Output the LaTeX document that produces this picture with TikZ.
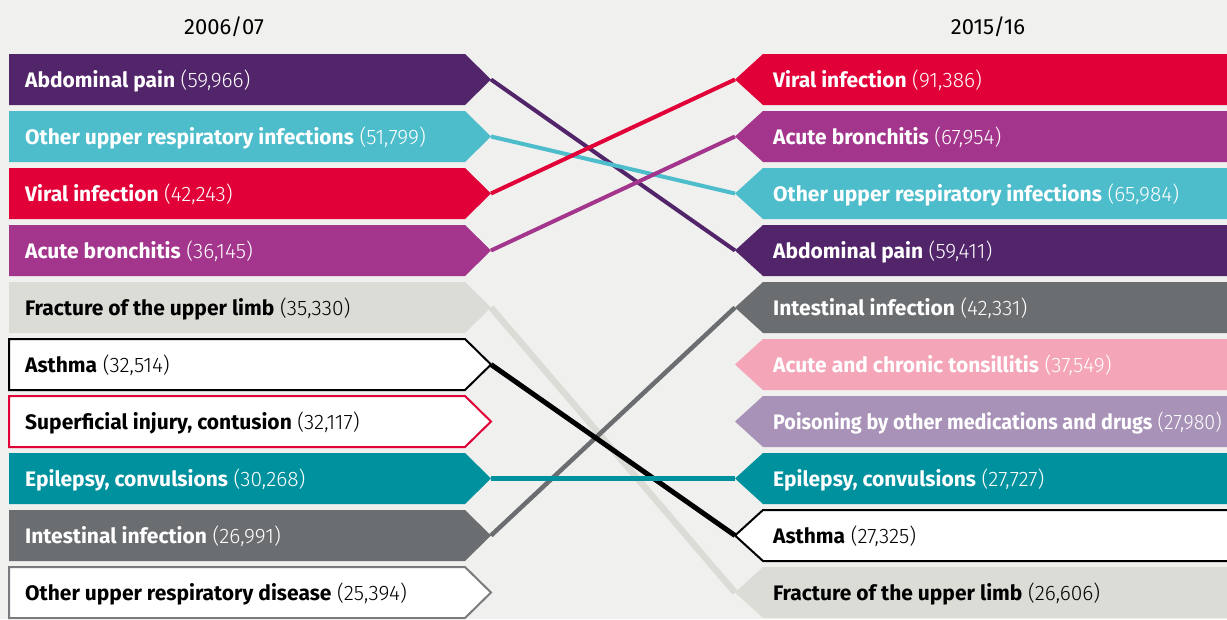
\documentclass[tikz,border=0pt]{standalone}
\usepackage{fontspec}
\setmainfont{Fira Sans}
\newfontfamily\lightfont{Fira Sans Light}
\definecolor{bg}{HTML}{F0F0EE}
\definecolor{cpurple}{HTML}{52246A}
\definecolor{ccyan}{HTML}{4DBDCC}
\definecolor{cred}{HTML}{E10038}
\definecolor{cmagenta}{HTML}{A3368C}
\definecolor{clgray}{HTML}{DCDCD7}
\definecolor{cteal}{HTML}{00919F}
\definecolor{cdgray}{HTML}{6B6E70}
\definecolor{cpink}{HTML}{F4A6B8}
\definecolor{clav}{HTML}{A892B8}
\definecolor{coutgray}{HTML}{7A7B7E}
\tikzset{
  lbl/.style={anchor=base west, inner sep=0pt, font=\fontsize{21}{24}\selectfont},
  head/.style={anchor=base, inner sep=0pt, font=\fontsize{22}{26}\selectfont},
  link/.style={line width=#1},
}
\newcommand\leftrow[6]{%
  \pgfmathsetmacro\ttop{54+(#1-1)*57}%
  \pgfmathsetmacro\tbot{\ttop+51}%
  \pgfmathsetmacro\tmid{\ttop+25.5}%
  \pgfmathsetmacro\tbase{\tmid+7.6}%
  \path[#3] (9,\ttop) -- (465,\ttop) -- (491,\tmid) -- (465,\tbot) -- (9,\tbot) -- cycle;
  \coordinate (#2) at (491,\tmid);
  \node[lbl, text=#6] (#2t) at (25,\tbase) {\textbf{#4} {\lightfont(#5)}};
}
\newcommand\rightrow[7][1]{%
  \pgfmathsetmacro\ttop{54+(#2-1)*57}%
  \pgfmathsetmacro\tbot{\ttop+51}%
  \pgfmathsetmacro\tmid{\ttop+25.5}%
  \pgfmathsetmacro\tbase{\tmid+7.6}%
  \path[#4] (1240,\ttop) -- (763,\ttop) -- (735,\tmid) -- (763,\tbot) -- (1240,\tbot) -- cycle;
  \coordinate (#3) at (735,\tmid);
  \node[lbl, text=#7] (#3t) at (773,\tbase) {\scalebox{#1}[1]{\textbf{#5} {\lightfont(#6)}}};
}
\begin{document}
\begin{tikzpicture}[x=1pt,y=-1pt]
\useasboundingbox (0,0) rectangle (1227,619);
\clip (0,0) rectangle (1227,619);
\fill[bg] (0,0) rectangle (1227,619);
\node[head] (h1) at (224,34.5) {2006/07};
\node[head] (h2) at (988,34.5) {2015/16};
% left column
\leftrow{1}{LA}{fill=cpurple}{Abdominal pain}{59,966}{white}
\leftrow{2}{LB}{fill=ccyan}{Other upper respiratory infections}{51,799}{white}
\leftrow{3}{LC}{fill=cred}{Viral infection}{42,243}{white}
\leftrow{4}{LD}{fill=cmagenta}{Acute bronchitis}{36,145}{white}
\leftrow{5}{LE}{fill=clgray}{Fracture of the upper limb}{35,330}{black}
\leftrow{6}{LF}{fill=white, draw=black, line width=2pt}{Asthma}{32,514}{black}
\leftrow{7}{LG}{fill=white, draw=cred, line width=2pt}{Superficial injury, contusion}{32,117}{black}
\leftrow{8}{LH}{fill=cteal}{Epilepsy, convulsions}{30,268}{white}
\leftrow{9}{LI}{fill=cdgray}{Intestinal infection}{26,991}{white}
\leftrow{10}{LJ}{fill=white, draw=coutgray, line width=2pt}{Other upper respiratory disease}{25,394}{black}
% right column
\rightrow{1}{RA}{fill=cred}{Viral infection}{91,386}{white}
\rightrow{2}{RB}{fill=cmagenta}{Acute bronchitis}{67,954}{white}
\rightrow{3}{RC}{fill=ccyan}{Other upper respiratory infections}{65,984}{white}
\rightrow{4}{RD}{fill=cpurple}{Abdominal pain}{59,411}{white}
\rightrow{5}{RE}{fill=cdgray}{Intestinal infection}{42,331}{white}
\rightrow{6}{RF}{fill=cpink}{Acute and chronic tonsillitis}{37,549}{white}
\rightrow[0.94]{7}{RG}{fill=clav}{Poisoning by other medications and drugs}{27,980}{white}
\rightrow{8}{RH}{fill=cteal}{Epilepsy, convulsions}{27,727}{white}
\rightrow{9}{RI}{fill=white, draw=black, line width=2pt}{Asthma}{27,325}{black}
\rightrow{10}{RJ}{fill=clgray}{Fracture of the upper limb}{26,606}{black}
% connectors
\draw[link=6.5pt, clgray] (LE) -- (RJ);
\draw[link=4.5pt, cdgray] (LI) -- (RE);
\draw[link=5pt, black] (LF) -- (RI);
\draw[link=5pt, cteal] (LH) -- (RH);
\draw[link=4pt, cpurple] (LA) -- (RD);
\draw[link=4pt, ccyan] (LB) -- (RC);
\draw[link=4pt, cred] (LC) -- (RA);
\draw[link=4pt, cmagenta] (LD) -- (RB);
\end{tikzpicture}
\end{document}
